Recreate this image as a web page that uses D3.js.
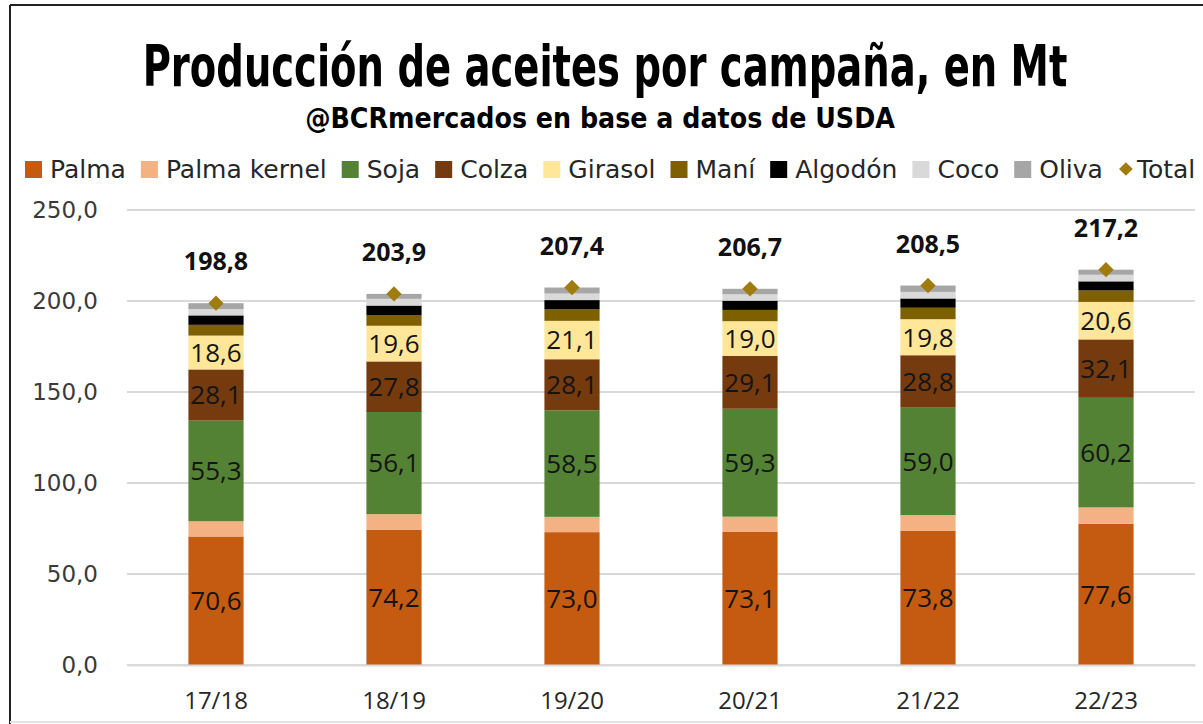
<!DOCTYPE html>
<html>
<head>
<meta charset="utf-8">
<script src="https://cdn.jsdelivr.net/npm/d3@7"></script>
<style>
  body { margin: 0; background: #fff; }
  svg { display: block; }
</style>
</head>
<body>
<div id="chart"></div>
<script>
// data (Mt)
const campaigns = ['17/18', '18/19', '19/20', '20/21', '21/22', '22/23']
const palma = [70.6, 74.2, 73.0, 73.1, 73.8, 77.6]
const palmaKernel = [8.4, 8.7, 8.4, 8.4, 8.6, 9.0]
const soja = [55.3, 56.1, 58.5, 59.3, 59.0, 60.2]
const colza = [28.1, 27.8, 28.1, 29.1, 28.8, 32.1]
const girasol = [18.6, 19.6, 21.1, 19.0, 19.8, 20.6]
const mani = [5.9, 5.9, 6.3, 6.2, 6.3, 6.3]
const algodon = [5.2, 5.2, 5.1, 5.1, 5.1, 5.0]
const coco = [3.5, 3.7, 3.6, 3.5, 3.6, 3.6]
const oliva = [3.2, 2.7, 3.3, 3.0, 3.5, 2.8]
const total = [198.8, 203.9, 207.4, 206.7, 208.5, 217.2]
const yTicks = [0, 50, 100, 150, 200, 250]

const series = [
  { name: 'Palma', values: palma, color: '#c55a11', label: true },
  { name: 'Palma kernel', values: palmaKernel, color: '#f4b183', label: false },
  { name: 'Soja', values: soja, color: '#548235', label: true },
  { name: 'Colza', values: colza, color: '#763a0f', label: true },
  { name: 'Girasol', values: girasol, color: '#ffe699', label: true },
  { name: 'Maní', values: mani, color: '#7f6000', label: false },
  { name: 'Algodón', values: algodon, color: '#000000', label: false },
  { name: 'Coco', values: coco, color: '#d9d9d9', label: false },
  { name: 'Oliva', values: oliva, color: '#a6a6a6', label: false }
]
const totalColor = '#a07c0e'

const fmt = v => d3.format('.1f')(v).replace('.', ',')

// squeeze a text horizontally to a given width, keeping its height
function fitWidth(sel, cx, y, width) {
  const natural = sel.node().getComputedTextLength()
  sel.attr('text-anchor', 'middle')
    .attr('transform', `translate(${cx}, ${y}) scale(${width / natural}, 1)`)
}

function draw() {
  const dimensions = {
    width: 1203,
    height: 724,
    margin: { top: 210, bottom: 59, left: 127, right: 8 }
  }
  dimensions.ctrWidth = dimensions.width - dimensions.margin.left - dimensions.margin.right
  dimensions.ctrHeight = dimensions.height - dimensions.margin.top - dimensions.margin.bottom

  const svg = d3.select('#chart')
    .append('svg')
    .attr('width', dimensions.width)
    .attr('height', dimensions.height)

  // frame
  svg.append('line').attr('x1', 10).attr('x2', 10).attr('y1', 5).attr('y2', 724)
    .attr('stroke', '#222').attr('stroke-width', 2)
  svg.append('line').attr('x1', 10).attr('x2', 1203).attr('y1', 5).attr('y2', 5)
    .attr('stroke', '#222').attr('stroke-width', 2)
  svg.append('line').attr('x1', 10).attr('x2', 1203).attr('y1', 722).attr('y2', 722)
    .attr('stroke', '#e3e3e3').attr('stroke-width', 2)

  // titles
  const title = svg.append('text')
    .style('font-family', '"DejaVu Sans Condensed", "DejaVu Sans", sans-serif')
    .style('font-weight', 'bold')
    .style('font-size', '57px')
    .attr('fill', '#000')
    .text('Producción de aceites por campaña, en Mt')
  fitWidth(title, 605, 86, 925)

  const subtitle = svg.append('text')
    .style('font-family', '"DejaVu Sans Condensed", "DejaVu Sans", sans-serif')
    .style('font-weight', 'bold')
    .style('font-size', '29px')
    .attr('fill', '#000')
    .text('@BCRmercados en base a datos de USDA')
  fitWidth(subtitle, 600, 128, 590)

  // legend
  const legend = svg.append('g')
    .style('font-family', '"DejaVu Sans", sans-serif')
    .style('font-size', '25px')
  let lx = 25
  const legendItems = series.map(s => ({ name: s.name, color: s.color, shape: 'rect' }))
    .concat([{ name: 'Total', color: totalColor, shape: 'diamond' }])
  legendItems.forEach(item => {
    if (item.shape === 'rect') {
      legend.append('rect')
        .attr('x', lx).attr('y', 161)
        .attr('width', 17).attr('height', 17)
        .attr('fill', item.color)
      lx += 25
    } else {
      legend.append('path')
        .attr('d', d3.symbol(d3.symbolDiamond2, 120)())
        .attr('transform', `translate(${lx + 8}, 169)`)
        .attr('fill', item.color)
      lx += 19
    }
    const t = legend.append('text')
      .attr('x', lx).attr('y', 178)
      .attr('fill', '#262626')
      .text(item.name)
    lx += t.node().getComputedTextLength() + 15
  })

  const ctr = svg.append('g')
    .attr('transform', `translate(${dimensions.margin.left}, ${dimensions.margin.top})`)

  // scales
  const xScale = d3.scaleBand()
    .domain(campaigns)
    .range([0, dimensions.ctrWidth])
    .paddingInner(0.69)
    .paddingOuter(0.345)

  const yScale = d3.scaleLinear()
    .domain([0, 250])
    .range([dimensions.ctrHeight, 0])

  // gridlines
  ctr.append('g')
    .selectAll('line')
    .data(yTicks)
    .join('line')
    .attr('x1', 0)
    .attr('x2', dimensions.ctrWidth)
    .attr('y1', d => yScale(d))
    .attr('y2', d => yScale(d))
    .attr('stroke', '#d9d9d9')
    .attr('stroke-width', 2)

  // y axis
  const yAxis = d3.axisLeft(yScale)
    .tickValues(yTicks)
    .tickFormat(fmt)
    .tickSize(0)
    .tickPadding(29)
  const yAxisGroup = ctr.append('g').call(yAxis)
  yAxisGroup.select('.domain').remove()
  yAxisGroup.selectAll('text')
    .style('font-family', '"DejaVu Sans", sans-serif')
    .style('font-size', '23px')
    .attr('fill', '#3a3a3a')

  // stacked bars
  const rows = campaigns.map((c, i) => {
    const row = { campaign: c }
    series.forEach(s => { row[s.name] = s.values[i] })
    return row
  })
  const stacked = d3.stack().keys(series.map(s => s.name))(rows)

  const layers = ctr.selectAll('g.layer')
    .data(stacked)
    .join('g')
    .attr('class', 'layer')
    .attr('fill', (d, i) => series[i].color)

  layers.selectAll('rect')
    .data(d => d)
    .join('rect')
    .attr('x', d => xScale(d.data.campaign))
    .attr('width', xScale.bandwidth())
    .attr('y', d => yScale(d[1]))
    .attr('height', d => yScale(d[0]) - yScale(d[1]))

  // segment labels
  stacked.forEach((layer, i) => {
    if (!series[i].label) return
    ctr.append('g')
      .selectAll('text')
      .data(layer)
      .join('text')
      .attr('x', d => xScale(d.data.campaign) + xScale.bandwidth() / 2)
      .attr('y', d => (yScale(d[0]) + yScale(d[1])) / 2)
      .attr('dy', '0.36em')
      .attr('text-anchor', 'middle')
      .style('font-family', '"Open Sans", sans-serif')
      .style('font-size', '26px')
      .attr('fill', '#141414')
      .text(d => fmt(d[1] - d[0]))
  })

  // x axis
  const xAxis = d3.axisBottom(xScale).tickSize(0).tickPadding(27)
  const xAxisGroup = ctr.append('g')
    .call(xAxis)
    .attr('transform', `translate(0, ${dimensions.ctrHeight})`)
  xAxisGroup.select('.domain')
    .attr('stroke', '#d9d9d9')
    .attr('stroke-width', 2)
  xAxisGroup.selectAll('text')
    .style('font-family', '"Open Sans", sans-serif')
    .style('font-size', '24px')
    .attr('fill', '#262626')

  // total markers and labels
  ctr.append('g')
    .selectAll('path')
    .data(total)
    .join('path')
    .attr('d', d3.symbol(d3.symbolDiamond2, 150)())
    .attr('transform', (d, i) =>
      `translate(${xScale(campaigns[i]) + xScale.bandwidth() / 2}, ${yScale(d)})`)
    .attr('fill', totalColor)

  ctr.append('g')
    .selectAll('text')
    .data(total)
    .join('text')
    .attr('x', (d, i) => xScale(campaigns[i]) + xScale.bandwidth() / 2)
    .attr('y', d => yScale(d) - 33)
    .attr('text-anchor', 'middle')
    .style('font-family', '"Open Sans", sans-serif')
    .style('font-weight', 'bold')
    .style('font-size', '25px')
    .attr('fill', '#111')
    .text(d => fmt(d))
}

draw()
</script>
</body>
</html>
